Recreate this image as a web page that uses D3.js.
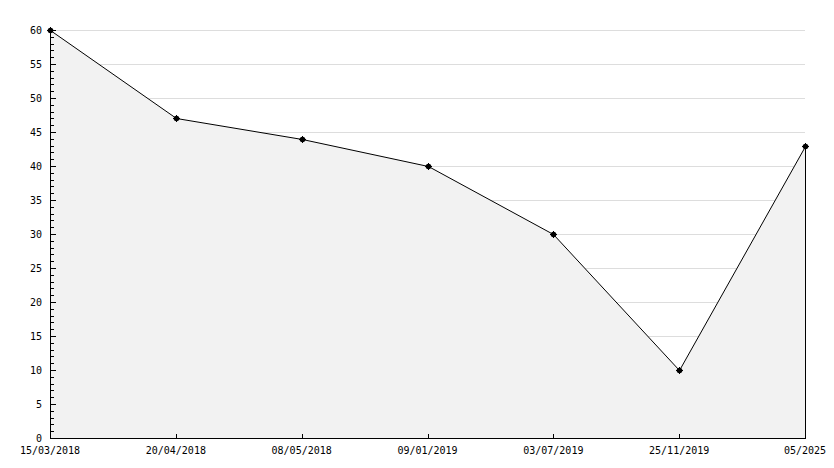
<!DOCTYPE html>
<html><head><meta charset="utf-8">
<script src="https://cdn.jsdelivr.net/npm/d3@7"></script>
<style>body{margin:0;background:#fff}svg{display:block}</style>
</head><body><svg id="c" width="834" height="468"></svg>
<script>
const categories = ["15/03/2018","20/04/2018","08/05/2018","09/01/2019","03/07/2019","25/11/2019","05/2025"];
const values = [60,47,44,40,30,10,43];
const yTicks = [0,5,10,15,20,25,30,35,40,45,50,55,60];

const W=834,H=468,m={l:50,r:29,t:30,b:30};
const svg=d3.select("#c");
const x=d3.scalePoint().domain(categories).range([m.l,W-m.r]);
const y=d3.scaleLinear().domain([0,60]).range([H-m.b,m.t]);
const font="'DejaVu Sans Mono', monospace";

// gridlines
svg.append("g").selectAll("line").data(yTicks.filter(d=>d>0)).join("line")
  .attr("x1",m.l).attr("x2",W-m.r)
  .attr("y1",d=>Math.round(y(d))+0.5).attr("y2",d=>Math.round(y(d))+0.5)
  .attr("stroke","#dddddd").attr("shape-rendering","crispEdges");

// area
const pts=categories.map((c,i)=>[Math.round(x(c))+0.5,Math.round(y(values[i]))+0.5]);
svg.append("path").datum(pts)
  .attr("d",d3.area().x(d=>d[0]).y0(y(0)).y1(d=>d[1]))
  .attr("fill","#f2f2f2");
svg.append("path").datum(pts)
  .attr("d",d3.line().x(d=>d[0]).y(d=>d[1]))
  .attr("fill","none").attr("stroke","#000").attr("stroke-width",1);
// right edge of area
const last=pts[pts.length-1];
svg.append("line").attr("x1",last[0]).attr("x2",last[0])
  .attr("y1",last[1]).attr("y2",y(0))
  .attr("stroke","#000").attr("shape-rendering","crispEdges");

// y axis
const ax=svg.append("g").attr("shape-rendering","crispEdges");
const yx=m.l+0.5;
ax.append("line").attr("x1",yx).attr("x2",yx).attr("y1",y(60)).attr("y2",y(0)+0.5).attr("stroke","#000");
ax.selectAll(".minor").data(d3.range(0,61)).join("line")
  .attr("x1",yx).attr("x2",d=>yx+(d%5===0?5:3))
  .attr("y1",d=>Math.round(y(d))+0.5).attr("y2",d=>Math.round(y(d))+0.5)
  .attr("stroke","#000");
svg.append("g").selectAll("text").data(yTicks).join("text")
  .attr("x",m.l-8).attr("y",d=>y(d)).attr("dy","0.35em")
  .attr("text-anchor","end").attr("font-family",font).attr("font-size",10)
  .attr("fill","#000").text(d=>d);

// x axis
const by=Math.round(y(0))+0.5;
ax.append("line").attr("x1",m.l).attr("x2",W-m.r+0.5).attr("y1",by).attr("y2",by).attr("stroke","#000");
ax.selectAll(".xt").data(categories).join("line")
  .attr("x1",d=>Math.round(x(d))+0.5).attr("x2",d=>Math.round(x(d))+0.5)
  .attr("y1",by).attr("y2",by-5).attr("stroke","#000");
svg.append("g").selectAll("text").data(categories).join("text")
  .attr("x",d=>x(d)).attr("y",by+15)
  .attr("text-anchor","middle").attr("font-family",font).attr("font-size",10)
  .attr("fill","#000").text(d=>d);

// markers
const mk=svg.append("g").selectAll("g").data(pts).join("g")
  .attr("transform",d=>`translate(${d[0]},${d[1]})`);
mk.append("circle").attr("r",2.8).attr("fill","#000");
mk.append("path").attr("d","M-3.5,0H3.5M0,-3.5V3.5").attr("stroke","#000").attr("stroke-width",1);
</script></body></html>
